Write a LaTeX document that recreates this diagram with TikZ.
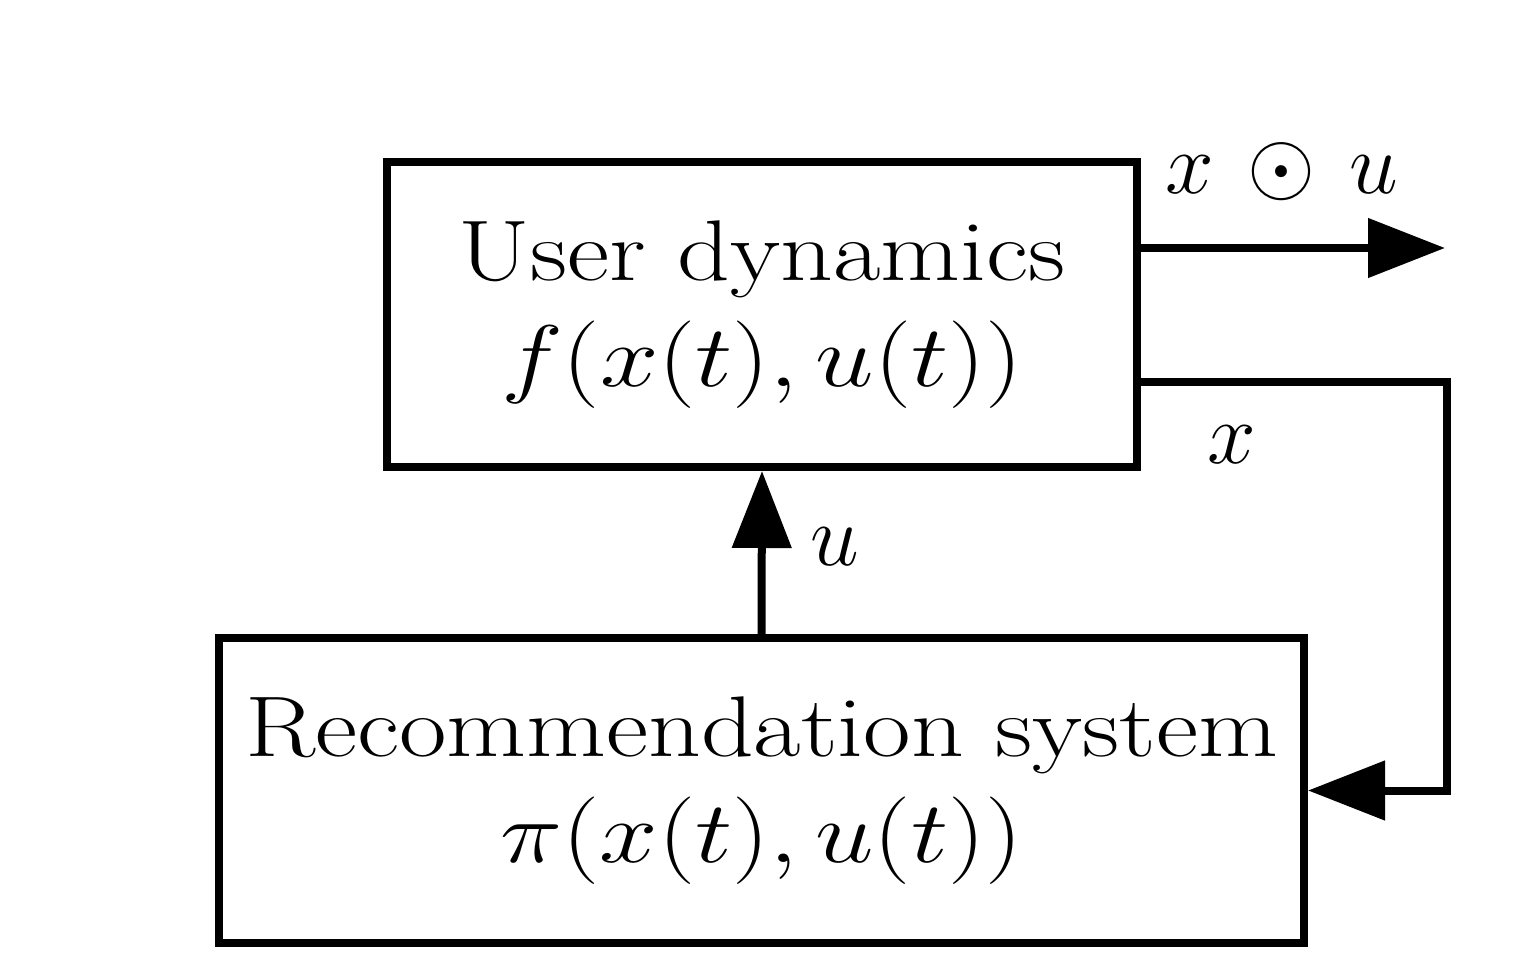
\documentclass[tikz,border=0pt]{standalone}
\usepackage{amsmath}
\usepackage{amssymb}
\usepackage{tikz}
\usetikzlibrary{arrows.meta}

\newcommand{\wide}[1]{\scalebox{1.2}[1]{#1}}

\tikzset{
	block/.style={draw, line width=0.08cm, minimum height=3.05cm, align=center, inner sep=0pt,
		font=\fontsize{24.5}{30}\selectfont},
	sig/.style={line width=0.08cm, -{Triangle[length=0.77cm,width=0.58cm]}},
}

\begin{document}
\begin{tikzpicture}[font=\fontsize{26}{30}\selectfont]
			\useasboundingbox (0,0) rectangle (15.2,9.6);

			\node[block, minimum width=7.5cm] (ud) at (7.62,6.455) {\wide{User dynamics}\\\wide{$f(x(t),u(t))$}};
			\node[block, minimum width=10.85cm] (rs) at (7.615,1.695) {\wide{Recommendation system}\\\wide{$\pi(x(t),u(t))$}};

			\coordinate (out) at (14.45,7.12);
			\coordinate (fb) at (14.47,1.695);

			\draw[sig] (ud.east |- out) -- (out);
			\draw[sig] ([yshift=-0.675cm]ud.east) -| (fb) -- (rs.east);
			\draw[sig] (rs.north) -- (ud.south);

			\foreach \name/\x/\y/\label in {
				lxu/12.82/7.67/{$x \,\odot\, u$},
				lx/12.32/4.97/{$x$},
				lu/8.35/3.95/{$u$}
			}{
				\node[anchor=base] (\name) at (\x,\y) {\label};
			}
		\end{tikzpicture}
\end{document}
